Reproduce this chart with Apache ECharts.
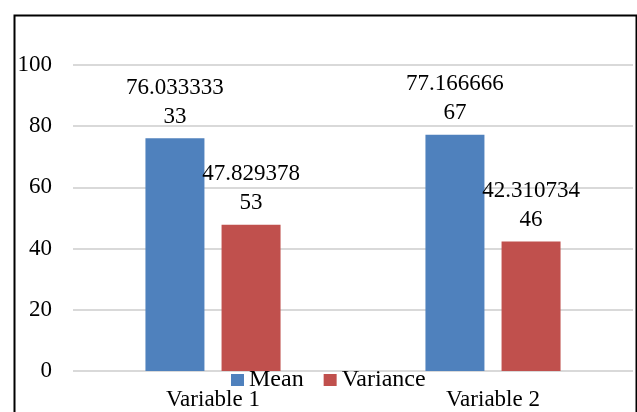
<!DOCTYPE html>
<html><head><meta charset="utf-8">
<script src="https://cdn.jsdelivr.net/npm/echarts@6/dist/echarts.min.js"></script>
<style>html,body{margin:0;padding:0;background:#fff}#c{width:637px;height:412px}</style>
</head><body><div id="c"></div>
<script>
const categories = ['Variable 1', 'Variable 2'];
const meanValues = [76.03333333, 77.16666667];
const varianceValues = [47.82937853, 42.31073446];
const seriesNames = ['Mean', 'Variance'];
const yTicks = {min: 0, max: 100, interval: 20};

const FONT = "'Liberation Serif', 'Times New Roman', serif";
function wrapLabel(p) {
  const s = String(p.value);
  return s.length > 9 ? s.slice(0, 9) + '\n' + s.slice(9) : s;
}
const labelCfg = {
  show: true, position: 'top', distance: 7, formatter: wrapLabel,
  fontFamily: FONT, fontSize: 23, lineHeight: 29, color: '#000'
};
const chart = echarts.init(document.getElementById('c'));
chart.setOption({
  animation: false,
  textStyle: {fontFamily: FONT},
  graphic: [{
    type: 'rect', left: 12, top: 13, z: 100, silent: true,
    shape: {width: 622, height: 420},
    style: {fill: 'none', stroke: '#000', lineWidth: 2}
  }],
  grid: {left: 73, right: 4, top: 65, bottom: 41, containLabel: false},
  legend: {
    data: seriesNames, left: 231, top: 368, padding: 0, icon: 'rect',
    itemWidth: 13, itemHeight: 12, itemGap: 20,
    textStyle: {fontFamily: FONT, fontSize: 24, color: '#000', lineHeight: 24}
  },
  xAxis: {
    type: 'category', data: categories,
    axisLine: {show: false}, axisTick: {show: false},
    axisLabel: {fontFamily: FONT, fontSize: 23, color: '#000', margin: 17, lineHeight: 23}
  },
  yAxis: {
    type: 'value', min: yTicks.min, max: yTicks.max, interval: yTicks.interval,
    axisLine: {show: false}, axisTick: {show: false},
    splitLine: {lineStyle: {color: '#d9d9d9', width: 2}},
    axisLabel: {fontFamily: FONT, fontSize: 23, color: '#000', margin: 21}
  },
  series: [
    {name: seriesNames[0], type: 'bar', data: meanValues, barWidth: 59, barGap: '29%',
     itemStyle: {color: '#4F81BD'}, label: labelCfg},
    {name: seriesNames[1], type: 'bar', data: varianceValues, barWidth: 59, barGap: '29%',
     itemStyle: {color: '#C0504D'}, label: labelCfg}
  ]
});
</script></body></html>
